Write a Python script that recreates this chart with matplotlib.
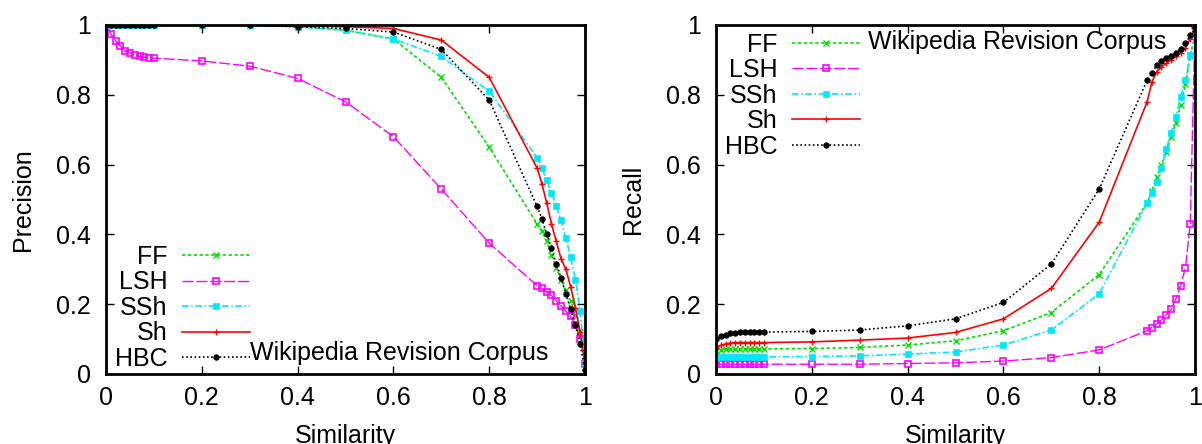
import matplotlib
matplotlib.use('Agg')
import matplotlib.pyplot as plt

plt.rcParams['font.family'] = ['Liberation Sans', 'DejaVu Sans']

# similarity thresholds
sim = [0.0, 0.01, 0.02, 0.03, 0.04, 0.05, 0.06, 0.07, 0.08, 0.09, 0.1,
       0.2, 0.3, 0.4, 0.5, 0.6, 0.7, 0.8,
       0.9, 0.91, 0.92, 0.93, 0.94, 0.95, 0.96, 0.97, 0.98, 0.99, 1.0]

# precision (left panel)
prec_ff = [1.0]*11 + [1.0, 1.0, 0.995, 0.985, 0.96, 0.85, 0.65,
                      0.43, 0.41, 0.38, 0.34, 0.305, 0.27, 0.24, 0.21, 0.17, 0.12, 0.03]
prec_lsh = [0.99, 0.975, 0.955, 0.94, 0.925, 0.92, 0.915, 0.91, 0.908, 0.906, 0.905,
            0.897, 0.882, 0.847, 0.78, 0.68, 0.53, 0.375,
            0.253, 0.245, 0.235, 0.225, 0.21, 0.195, 0.18, 0.165, 0.14, 0.10, 0.03]
prec_ssh = [1.0]*11 + [1.0, 1.0, 0.995, 0.985, 0.96, 0.91, 0.81,
                       0.62, 0.59, 0.555, 0.52, 0.48, 0.44, 0.39, 0.335, 0.27, 0.18, 0.03]
prec_sh = [1.0]*11 + [1.0, 1.0, 0.998, 0.995, 0.99, 0.957, 0.85,
                      0.59, 0.545, 0.49, 0.43, 0.38, 0.33, 0.30, 0.25, 0.19, 0.12, 0.03]
prec_hbc = [1.0]*11 + [1.0, 1.0, 0.995, 0.99, 0.98, 0.93, 0.785,
                       0.48, 0.445, 0.40, 0.36, 0.315, 0.275, 0.23, 0.185, 0.14, 0.085, 0.01]

# recall (right panel)
rec_ff = [0.066, 0.07, 0.071, 0.072, 0.072, 0.072, 0.072, 0.072, 0.072, 0.072, 0.072,
          0.073, 0.076, 0.083, 0.095, 0.124, 0.176, 0.285,
          0.49, 0.525, 0.565, 0.60, 0.636, 0.68, 0.72, 0.77, 0.83, 0.91, 0.97]
rec_lsh = [0.028]*11 + [0.028, 0.028, 0.03, 0.032, 0.037, 0.047, 0.069,
                        0.124, 0.133, 0.143, 0.155, 0.17, 0.185, 0.215, 0.253, 0.305, 0.43, 1.0]
rec_ssh = [0.047, 0.048] + [0.049]*9 + [0.05, 0.052, 0.057, 0.063, 0.083, 0.126, 0.23,
                                       0.49, 0.52, 0.55, 0.59, 0.645, 0.69, 0.737, 0.795, 0.842, 0.914, 0.97]
rec_sh = [0.075, 0.082, 0.086, 0.088] + [0.09]*7 + [0.092, 0.097, 0.103, 0.119, 0.158, 0.245, 0.435,
                                                  0.78, 0.837, 0.866, 0.88, 0.89, 0.90, 0.91, 0.92, 0.935, 0.96, 0.99]
rec_hbc = [0.10, 0.108, 0.113, 0.116, 0.118, 0.119, 0.12, 0.12, 0.12, 0.12, 0.12,
           0.122, 0.126, 0.138, 0.158, 0.205, 0.315, 0.53,
           0.842, 0.862, 0.885, 0.897, 0.905, 0.91, 0.92, 0.93, 0.948, 0.97, 0.99]

names = ['FF', 'LSH', 'SSh', 'Sh', 'HBC']
ticks = [0, 0.2, 0.4, 0.6, 0.8, 1]
tick_labels = ['0', '0.2', '0.4', '0.6', '0.8', '1']

styles = [
    dict(color='#00e000', ls=(0, (2, 1.5)), marker='x', ms=5, mew=1),
    dict(color='#ff00ff', ls=(0, (8, 2)), marker='s', ms=5, mfc='none', mew=1.2, lw=1.0),
    dict(color='#00e8ff', ls=(0, (4, 1.5, 1, 1.5)), marker='s', ms=5, mew=0.5),
    dict(color='#ff0000', ls='-', marker='+', ms=5, mew=1),
    dict(color='black', ls=(0, (1, 1.5)), marker='o', ms=4, mew=0.5),
]


def draw(ax, series, ylabel):
    for name, ys, st in zip(names, series, styles):
        kw = dict(lw=1.2)
        kw.update(st)
        ax.plot(sim, ys, label=name, **kw)
    ax.set_xlim(0, 1)
    ax.set_ylim(0, 1)
    ax.set_xticks(ticks)
    ax.set_xticklabels(tick_labels)
    ax.set_yticks(ticks)
    ax.set_yticklabels(tick_labels)
    ax.tick_params(direction='in', top=True, right=True, length=6, width=1,
                   labelsize=18)
    ax.tick_params(axis='x', pad=9)
    ax.tick_params(axis='y', pad=11)
    for sp in ax.spines.values():
        sp.set_linewidth(2)
    ax.set_xlabel('Similarity', fontsize=18, labelpad=10)
    ax.set_ylabel(ylabel, fontsize=18, labelpad=15)


fig = plt.figure(figsize=(12.02, 4.44), dpi=100)
ax1 = fig.add_axes([0.0882, 0.1577, 0.3985, 0.786])
ax2 = fig.add_axes([0.5957, 0.1577, 0.3985, 0.786])

draw(ax1, [prec_ff, prec_lsh, prec_ssh, prec_sh, prec_hbc], 'Precision')
draw(ax2, [rec_ff, rec_lsh, rec_ssh, rec_sh, rec_hbc], 'Recall')

leg_kw = dict(frameon=False, markerfirst=False, fontsize=18, handlelength=2.7,
              handletextpad=0.6, labelspacing=0.06, borderpad=0, borderaxespad=0)
ax1.legend(loc='lower right', bbox_to_anchor=(0.30, 0.009), **leg_kw)
ax2.legend(loc='upper right', bbox_to_anchor=(0.30, 0.978), **leg_kw)

ax1.text(0.30, 0.06, 'Wikipedia Revision Corpus', transform=ax1.transAxes,
         fontsize=18, va='center', ha='left')
ax2.text(0.317, 0.951, 'Wikipedia Revision Corpus', transform=ax2.transAxes,
         fontsize=18, va='center', ha='left')

fig.savefig('out.png', dpi=100)
